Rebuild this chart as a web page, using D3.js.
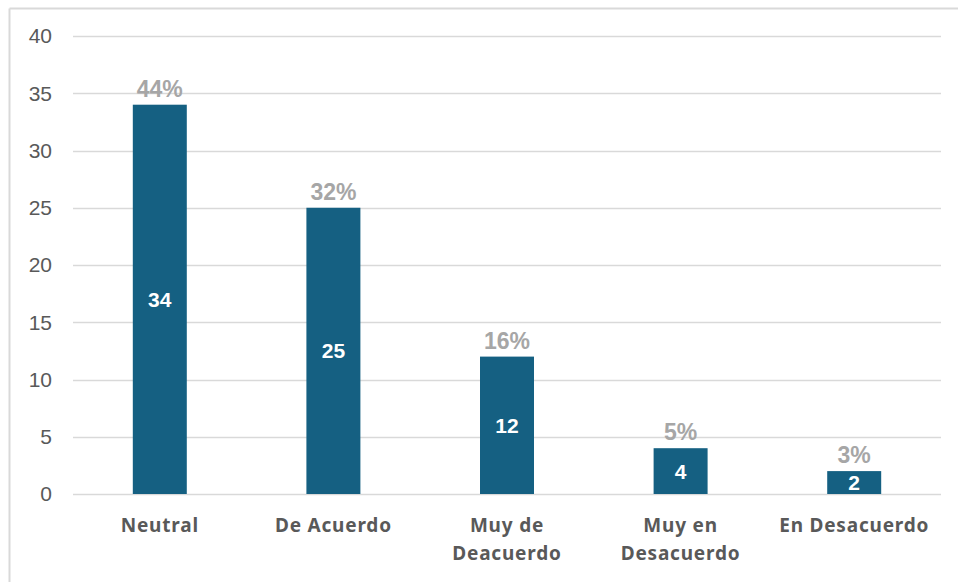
<!DOCTYPE html>
<html>
<head>
<meta charset="utf-8">
<script src="https://cdn.jsdelivr.net/npm/d3@7"></script>
<style>
  body { margin: 0; background: #fff; }
</style>
</head>
<body>
<div id="chart"></div>
<script>
var categories = ["Neutral", "De Acuerdo", "Muy de|Deacuerdo", "Muy en|Desacuerdo", "En Desacuerdo"];
var values = [34, 25, 12, 4, 2];
var yTicks = [0, 5, 10, 15, 20, 25, 30, 35, 40];

var width = 958;
var height = 582;
var plotLeft = 73, plotRight = 941, plotTop = 36, plotBottom = 494;

var svg = d3.select("#chart")
    .append("svg")
    .attr("width", width)
    .attr("height", height);

// chart frame (top + left edges visible)
svg.append("line").attr("x1", 9.5).attr("x2", width).attr("y1", 8.5).attr("y2", 8.5)
    .style("stroke", "#d9d9d9").style("stroke-width", 2);
svg.append("line").attr("x1", 9.5).attr("x2", 9.5).attr("y1", 8.5).attr("y2", height)
    .style("stroke", "#d9d9d9").style("stroke-width", 2);

var x = d3.scaleBand()
    .domain(categories)
    .range([plotLeft, plotRight])
    .paddingInner(0.689)
    .paddingOuter(0.3445);

var y = d3.scaleLinear()
    .domain([0, 40])
    .range([plotBottom, plotTop]);

var total = d3.sum(values);
var pct = d3.format(".0%");

// gridlines
svg.selectAll("line.grid")
    .data(yTicks)
    .enter()
    .append("line")
    .attr("class", "grid")
    .attr("x1", plotLeft)
    .attr("x2", plotRight)
    .attr("y1", function (d) { return Math.round(y(d)) + 0.5; })
    .attr("y2", function (d) { return Math.round(y(d)) + 0.5; })
    .style("stroke", "#d9d9d9")
    .style("stroke-width", 1.5);

// y tick labels
svg.selectAll("text.ytick")
    .data(yTicks)
    .enter()
    .append("text")
    .attr("class", "ytick")
    .attr("x", 52)
    .attr("y", function (d) { return y(d); })
    .attr("dy", "0.35em")
    .attr("text-anchor", "end")
    .style("font-family", "'Liberation Sans', Arial, sans-serif")
    .style("font-size", "21px")
    .style("fill", "#595959")
    .text(function (d) { return d; });

var data = categories.map(function (c, i) { return { cat: c, value: values[i] }; });

// bars
svg.selectAll("rect.bar")
    .data(data)
    .enter()
    .append("rect")
    .attr("class", "bar")
    .attr("x", function (d) { return x(d.cat); })
    .attr("y", function (d) { return y(d.value); })
    .attr("width", x.bandwidth())
    .attr("height", function (d) { return y(0) - y(d.value); })
    .style("fill", "#156082");

// value labels inside bars
svg.selectAll("text.val")
    .data(data)
    .enter()
    .append("text")
    .attr("class", "val")
    .attr("x", function (d) { return x(d.cat) + x.bandwidth() / 2; })
    .attr("y", function (d) { return (y(d.value) + y(0)) / 2; })
    .attr("dy", "0.36em")
    .attr("text-anchor", "middle")
    .style("font-family", "'Liberation Sans', Arial, sans-serif")
    .style("font-size", "21px")
    .style("font-weight", "bold")
    .style("fill", "#ffffff")
    .text(function (d) { return d.value; });

// percentage labels above bars
svg.selectAll("text.pct")
    .data(data)
    .enter()
    .append("text")
    .attr("class", "pct")
    .attr("x", function (d) { return x(d.cat) + x.bandwidth() / 2; })
    .attr("y", function (d) { return y(d.value) - 8; })
    .attr("text-anchor", "middle")
    .style("font-family", "'Liberation Sans', Arial, sans-serif")
    .style("font-size", "23px")
    .style("font-weight", "bold")
    .style("fill", "#a6a6a6")
    .text(function (d) { return pct(d.value / total); });

// category labels (wrapped on "|")
var cat = svg.selectAll("text.cat")
    .data(categories)
    .enter()
    .append("text")
    .attr("class", "cat")
    .attr("text-anchor", "middle")
    .style("font-family", "'Noto Sans', sans-serif")
    .style("font-size", "19px")
    .style("font-weight", "bold")
    .style("letter-spacing", "0.8px")
    .style("fill", "#595959");

cat.each(function (d) {
    var lines = d.split("|");
    var cx = x(d) + x.bandwidth() / 2;
    d3.select(this).selectAll("tspan")
        .data(lines)
        .enter()
        .append("tspan")
        .attr("x", cx)
        .attr("y", function (l, i) { return 532 + i * 28; })
        .text(function (l) { return l; });
});
</script>
</body>
</html>
